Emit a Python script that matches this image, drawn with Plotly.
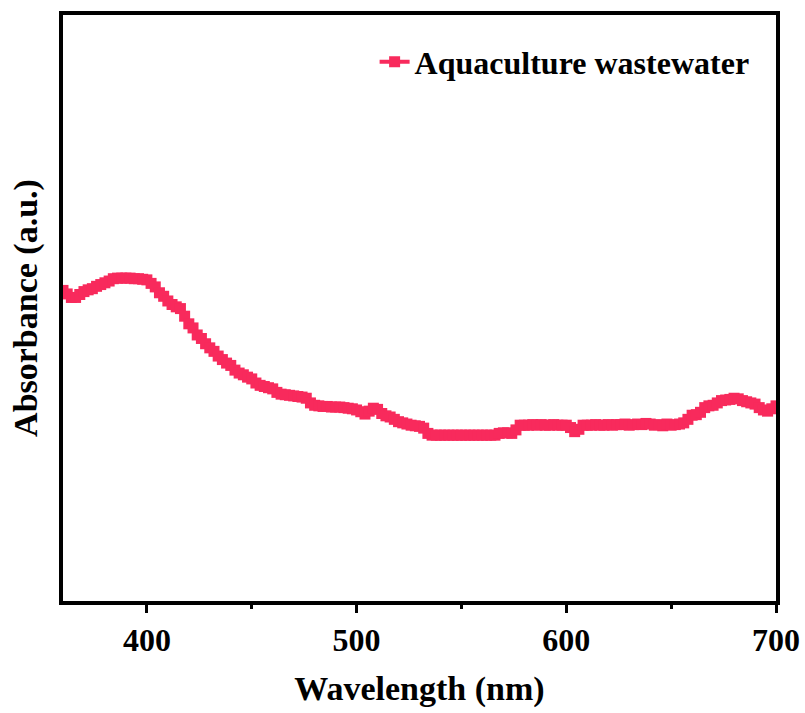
import plotly.graph_objects as go

wavelength = list(range(360, 702, 2))

absorbance = [
    53.0, 52.4, 51.8, 51.8, 52.3, 52.8, 53.1, 53.3, 53.7, 54.0,   # 360-378
    54.3, 54.6, 55.0, 55.1, 55.1, 55.1, 55.1, 55.0, 55.0, 54.9,   # 380-398
    54.8, 54.2, 53.6, 52.6, 52.0, 51.2, 50.6, 50.2, 49.9, 48.6,   # 400-418
    47.3, 46.6, 45.4, 44.8, 43.9, 43.2, 42.6, 41.8, 41.2, 40.6,   # 420-438
    40.2, 39.4, 38.9, 38.6, 38.2, 37.9, 37.2, 36.8, 36.6, 36.4,   # 440-458
    36.2, 35.6, 35.3, 35.2, 35.1, 35.0, 34.9, 34.8, 34.6, 33.8,   # 460-478
    33.4, 33.3, 33.2, 33.2, 33.1, 33.1, 33.1, 33.0, 32.9, 32.8,   # 480-498
    32.6, 32.3, 31.9, 32.4, 32.9, 32.7, 32.0, 31.6, 31.4, 31.0,   # 500-518
    30.6, 30.4, 30.2, 30.0, 29.9, 29.8, 29.5, 28.6, 28.3, 28.3,   # 520-538
    28.3, 28.3, 28.3, 28.3, 28.3, 28.3, 28.3, 28.3, 28.3, 28.3,   # 540-558
    28.3, 28.3, 28.3, 28.3, 28.6, 28.7, 28.7, 28.6, 29.2, 30.0,   # 560-578
    30.0, 30.0, 30.1, 30.0, 30.1, 30.0, 30.0, 30.1, 30.0, 30.0,   # 580-598
    30.0, 29.6, 28.9, 29.3, 30.0, 30.0, 30.0, 30.1, 30.0, 30.0,   # 600-618
    30.1, 30.0, 30.1, 30.1, 30.2, 30.0, 30.1, 30.2, 30.1, 30.3,   # 620-638
    30.2, 30.0, 30.1, 29.9, 30.2, 30.0, 30.1, 30.2, 30.4, 31.0,   # 640-658
    31.7, 31.8, 32.2, 33.0, 33.3, 33.4, 33.8, 34.2, 34.3, 34.4,   # 660-678
    34.6, 34.5, 34.2, 34.0, 33.8, 33.6, 33.0, 32.6, 32.4, 32.8,   # 680-698
    33.3,                                                          # 700
]

series_name = "Aquaculture wastewater"
x_ticks = [400, 500, 600, 700]
x_tick_labels = ["400", "500", "600", "700"]

color = "#F82A5C"
font_family = "Liberation Serif, Times New Roman, serif"

fig = go.Figure()
fig.add_trace(go.Scatter(
    x=wavelength, y=absorbance, name=series_name,
    mode="lines+markers",
    line=dict(color=color, width=4),
    marker=dict(symbol="square", size=11, color=color),
))

fig.update_layout(
    width=805, height=713,
    margin=dict(l=63, r=29, t=15, b=112, autoexpand=False),
    paper_bgcolor="white", plot_bgcolor="white",
    font=dict(family=font_family, color="black"),
    showlegend=True,
    legend=dict(
        x=0.97, y=0.92, xanchor="right", yanchor="middle",
        bgcolor="rgba(0,0,0,0)",
        font=dict(size=32, family=font_family, color="black", weight="bold"),
    ),
)

fig.update_xaxes(
    range=[360, 700], automargin=False,
    tickvals=x_ticks, ticktext=x_tick_labels,
    ticks="outside", ticklen=8, tickwidth=3, tickcolor="black",
    minor=dict(dtick=50, tick0=350, ticks="outside", ticklen=4, tickwidth=3, tickcolor="black"),
    showline=True, linewidth=4, linecolor="black", mirror=True,
    showgrid=False, zeroline=False,
    tickfont=dict(size=32, family=font_family, weight="bold"),
    title=dict(text="Wavelength (nm)", font=dict(size=34, family=font_family, weight="bold"), standoff=20),
)
fig.update_yaxes(
    range=[0, 100], automargin=False,
    showticklabels=False, ticks="",
    showline=True, linewidth=4, linecolor="black", mirror=True,
    showgrid=False, zeroline=False,
    title=dict(text="Absorbance (a.u.)", font=dict(size=34, family=font_family, weight="bold"), standoff=12),
)

fig.write_html("out.html")
